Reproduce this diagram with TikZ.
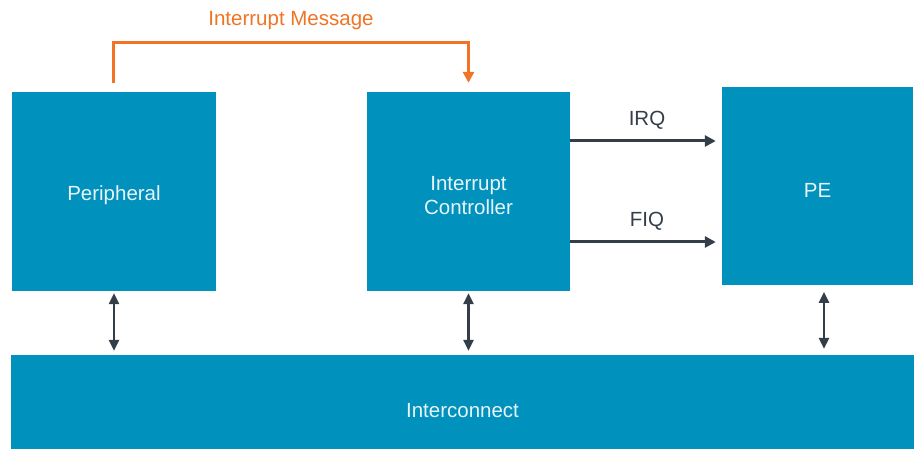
\documentclass[tikz,border=0pt]{standalone}
\usepackage{fontspec}
\setmainfont{Liberation Sans}
\usetikzlibrary{arrows.meta}
\definecolor{boxblue}{HTML}{0091BD}
\definecolor{darkline}{HTML}{333E48}
\definecolor{msgorange}{HTML}{F07424}
\definecolor{boxtext}{HTML}{E8F4F8}
\tikzset{
  blockbox/.style={fill=boxblue, draw=none, inner sep=0pt},
  boxlabel/.style={text=boxtext, align=center, inner sep=0pt,
    font=\fontsize{20.5}{24}\selectfont},
  biarrow/.style={darkline, line width=2.5pt, {Triangle[length=11pt,width=10pt]}-{Triangle[length=11pt,width=10pt]}},
  sigarrow/.style={darkline, line width=3pt, -{Triangle[length=11pt,width=11pt]}},
  msgarrow/.style={msgorange, line width=3pt, -{Triangle[length=11pt,width=11pt]}},
  lbl/.style={font=\fontsize{20.5}{24}\selectfont, inner sep=0pt}
}
\begin{document}
\begin{tikzpicture}[x=1pt,y=-1pt]
\useasboundingbox (0,0) rectangle (914,449);
\node[blockbox, minimum width=204pt, minimum height=199pt,
  label={[boxlabel, yshift=-4pt]center:Peripheral}] (per) at (114,191.5) {};
\node[blockbox, minimum width=203pt, minimum height=199pt,
  label={[boxlabel, yshift=-4pt]center:Interrupt\\Controller}] (ic) at (468.5,191.5) {};
\node[blockbox, minimum width=191pt, minimum height=198pt,
  label={[boxlabel, yshift=-4pt]center:PE}] (pe) at (817.5,186) {};
\node[blockbox, minimum width=903pt, minimum height=94pt,
  label={[boxlabel, yshift=-9pt]center:Interconnect}] (inter) at (462.5,402) {};
% interconnect arrows
\draw[biarrow] ([yshift=-2pt]per.south) -- ([yshift=4pt]inter.north -| per.south);
\draw[biarrow] ([yshift=-2pt]ic.south) -- ([yshift=4pt]inter.north -| ic.south);
\coordinate (peb) at (824,286);
\draw[biarrow] ([yshift=-6pt]peb) -- ([yshift=6pt]inter.north -| peb);
% IRQ / FIQ
\coordinate (irqy) at (0,141);
\coordinate (fiqy) at (0,242);
\draw[sigarrow] (ic.east |- irqy) -- ([xshift=-6pt]pe.west |- irqy);
\draw[sigarrow] (ic.east |- fiqy) -- ([xshift=-6pt]pe.west |- fiqy);
\node[lbl, text=darkline] (irq) at (647,120) {IRQ};
\node[lbl, text=darkline] (fiq) at (647,221) {FIQ};
% interrupt message
\coordinate (msgtop) at (0,43);
\draw[msgarrow] ([xshift=-1pt,yshift=9pt]per.north) |- (msgtop -| ic.north) -- ([yshift=9pt]ic.north);
\node[lbl, text=msgorange] (msg) at (291,21) {Interrupt Message};
\end{tikzpicture}
\end{document}
